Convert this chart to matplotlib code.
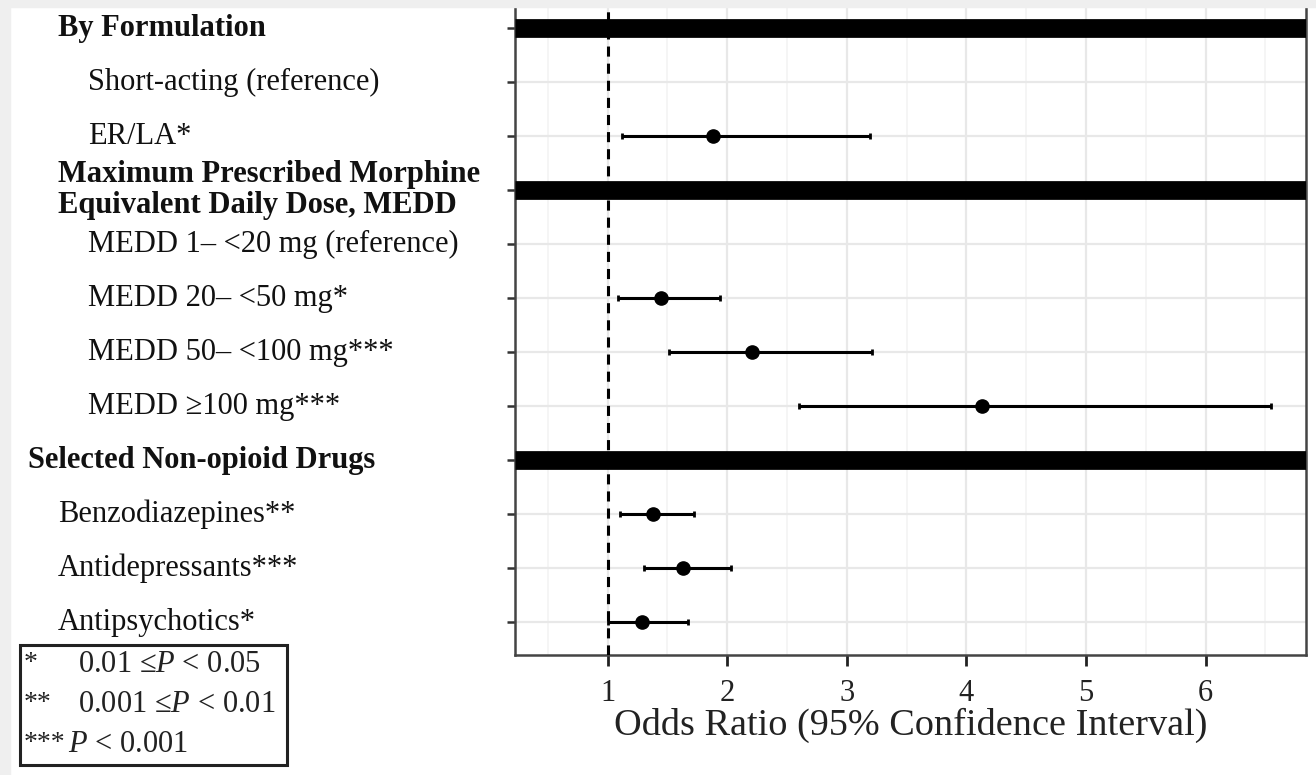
import matplotlib
matplotlib.use("Agg")
import matplotlib.pyplot as plt
from matplotlib.patches import Rectangle
from matplotlib.transforms import blended_transform_factory

plt.rcParams['font.family'] = ['Liberation Serif', 'DejaVu Serif']
plt.rcParams['mathtext.fontset'] = 'custom'
plt.rcParams['mathtext.rm'] = 'Liberation Serif'
plt.rcParams['mathtext.it'] = 'Liberation Serif:italic'

# rows, top to bottom
labels = ["By Formulation",
          "Short-acting (reference)",
          "ER/LA*",
          "Maximum Prescribed Morphine\nEquivalent Daily Dose, MEDD",
          "MEDD 1\u2013 <20 mg (reference)",
          "MEDD 20\u2013 <50 mg*",
          "MEDD 50\u2013 <100 mg***",
          "MEDD \u2265100 mg***",
          "Selected Non-opioid Drugs",
          "Benzodiazepines**",
          "Antidepressants***",
          "Antipsychotics*"]
is_header = [True, False, False, True, False, False, False, False, True, False, False, False]

# odds ratios and 95% CI (None = header or reference row)
odds = [None, None, 1.88, None, None, 1.45, 2.21, 4.13, None, 1.38, 1.63, 1.29]
ci_low = [None, None, 1.12, None, None, 1.09, 1.51, 2.60, None, 1.10, 1.30, 1.00]
ci_high = [None, None, 3.19, None, None, 1.94, 3.21, 6.55, None, 1.72, 2.03, 1.67]

xticks = [1, 2, 3, 4, 5, 6]
legend_stars = ["*", "**", "***"]
legend_text = ["0.01 \u2264$\\mathit{P}$ < 0.05", "0.001 \u2264$\\mathit{P}$ < 0.01", "$\\mathit{P}$ < 0.001"]

W, H = 1316, 775
fig = plt.figure(figsize=(W / 100, H / 100), dpi=100)

def fx(x):
    return x / W

def fy(y):
    return 1 - y / H

ax = fig.add_axes([fx(515), fy(655), fx(1306 - 515), 655 / H])
ax.set_xlim(0.225, 6.84)
ax.set_ylim(11.61, -0.52)

rows = list(range(len(labels)))

# grid
ax.set_xticks(xticks)
ax.set_xticks([0.5 + i for i in range(7)], minor=True)
ax.set_yticks(rows)
ax.grid(which='major', color='#e8e8e8', lw=1.6, zorder=0)
ax.grid(which='minor', axis='x', color='#f3f3f3', lw=1.2, zorder=0)
ax.set_axisbelow(True)

# reference line
ax.axvline(1, color='black', lw=2.2, ls=(0, (3.3, 2.3)), zorder=3)

# header bars
for r, h in zip(rows, is_header):
    if h:
        ax.axhline(r, color='black', lw=13.5, zorder=4, solid_capstyle='butt')

# estimates
for r, o, lo, hi in zip(rows, odds, ci_low, ci_high):
    if o is None:
        continue
    ax.errorbar(o, r, xerr=[[o - lo], [hi - o]], fmt='o', color='black',
                ms=9.5, elinewidth=2.2, capsize=2.5, capthick=2, zorder=5)

# axes styling
for side in ['left', 'bottom', 'right']:
    ax.spines[side].set_color('#444444')
    ax.spines[side].set_linewidth(1.8)
ax.spines['top'].set_visible(False)
ax.tick_params(axis='y', length=6, width=1.8, color='#333333', labelleft=False)
ax.tick_params(axis='x', length=8, width=2, color='#222222', labelsize=22, pad=9, labelcolor='#222222')
ax.tick_params(which='minor', length=0)
ax.set_xticklabels([str(t) for t in xticks])
ax.set_xlabel("Odds Ratio (95% Confidence Interval)", fontsize=27.5, color='#222222', labelpad=0)

# row labels
label_x = [58, 88, 88, 58, 88, 88, 88, 88, 28, 58, 58, 58]
tr = blended_transform_factory(fig.transFigure, ax.transData)
for r, lab, h, x in zip(rows, labels, is_header, label_x):
    fig.text(fx(x), r, lab, transform=tr, ha='left', va='center',
             fontsize=22, fontweight='bold' if h else 'normal', color='#111111',
             linespacing=1.1)

# significance key
fig.patches.append(Rectangle((fx(20), fy(765)), fx(287 - 20), (765 - 645) / H,
                             transform=fig.transFigure, fill=False, ec='#222222', lw=2.2))
for i, (s, t) in enumerate(zip(legend_stars, legend_text)):
    y = 664 + i * 40
    fig.text(fx(24), fy(y), s, ha='left', va='center', fontsize=20, color='#222222')
    fig.text(fx(78 if i < 2 else 68), fy(y), t, ha='left', va='center', fontsize=22, color='#222222')

# light page border
fig.patches.append(Rectangle((0, fy(7)), 1, 7 / H, transform=fig.transFigure, color='#efefef', zorder=10))
fig.patches.append(Rectangle((0, 0), fx(10), 1, transform=fig.transFigure, color='#efefef', zorder=10))

fig.savefig("out.png", dpi=100)
